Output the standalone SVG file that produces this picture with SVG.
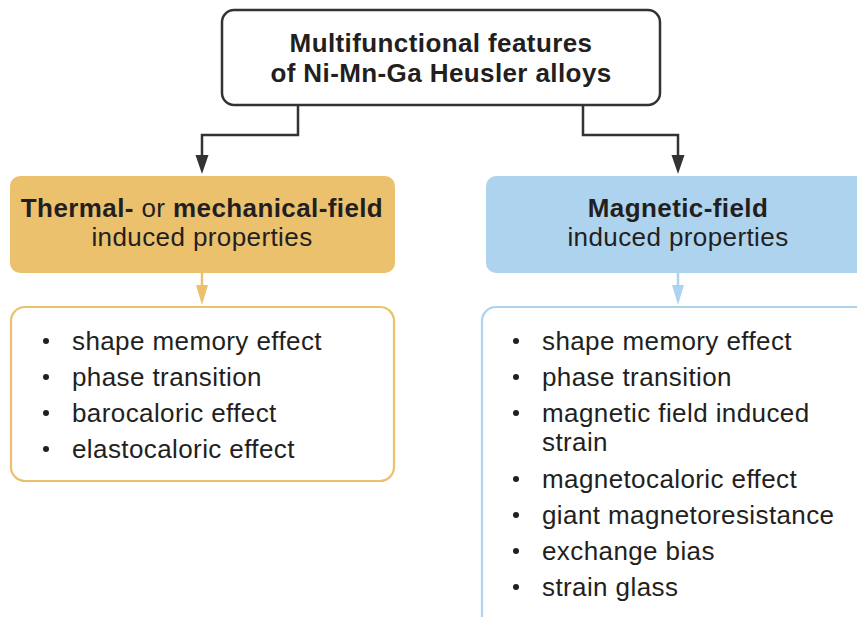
<svg xmlns="http://www.w3.org/2000/svg" width="857" height="617" viewBox="0 0 857 617">
  <defs>
    <style>
      text { font-family: "Liberation Sans", Arial, sans-serif; fill: #231f20; letter-spacing: 0.4px; }
      .hd { font-size: 26px; font-weight: bold; text-anchor: middle; }
      .sub { font-size: 26px; text-anchor: middle; }
      .b { font-weight: bold; }
      .item { font-size: 26px; }
      .dot { fill: #231f20; }
      .link { fill: none; stroke: #333333; stroke-width: 2.5; }
    </style>
  </defs>

  <!-- root node -->
  <g id="root">
    <rect x="222" y="10" width="438" height="95" rx="12" fill="#ffffff" stroke="#333333" stroke-width="2.5"/>
    <text class="hd" x="441" y="52">Multifunctional features</text>
    <text class="hd" x="441" y="82">of Ni-Mn-Ga Heusler alloys</text>
  </g>

  <!-- connectors -->
  <g id="connectors">
    <path class="link" d="M298,105 V135 H202 V158"/>
    <path d="M195.5,155 L208.5,155 L202,174 Z" fill="#333333"/>
    <path class="link" d="M583,105 V135 H678 V158"/>
    <path d="M671.5,155 L684.5,155 L678,174 Z" fill="#333333"/>
    <path d="M202,273 V288" stroke="#ebc16e" stroke-width="2.5" fill="none"/>
    <path d="M196,285 L208,285 L202,305 Z" fill="#ebc16e"/>
    <path d="M678,273 V288" stroke="#aed3ee" stroke-width="2.5" fill="none"/>
    <path d="M672,285 L684,285 L678,305 Z" fill="#aed3ee"/>
  </g>

  <!-- thermal / mechanical branch -->
  <g id="thermal-head">
    <rect x="10" y="176" width="385" height="97" rx="10" fill="#ebc16e"/>
    <text class="sub" x="202" y="217"><tspan class="b">Thermal-</tspan> or <tspan class="b">mechanical-field</tspan></text>
    <text class="sub" x="202" y="246">induced properties</text>
  </g>
  <g id="thermal-list">
    <rect x="11" y="307" width="383" height="174" rx="14" fill="#ffffff" stroke="#ebc16e" stroke-width="2.2"/>
    <circle class="dot" cx="46" cy="341" r="3"/>
    <circle class="dot" cx="46" cy="377" r="3"/>
    <circle class="dot" cx="46" cy="413" r="3"/>
    <circle class="dot" cx="46" cy="449" r="3"/>
    <text class="item" x="72" y="350">shape memory effect</text>
    <text class="item" x="72" y="386">phase transition</text>
    <text class="item" x="72" y="422">barocaloric effect</text>
    <text class="item" x="72" y="458">elastocaloric effect</text>
  </g>

  <!-- magnetic branch -->
  <g id="magnetic-head">
    <rect x="486" y="176" width="420" height="97" rx="10" fill="#aed3ee"/>
    <text class="hd" x="678" y="217">Magnetic-field</text>
    <text class="sub" x="678" y="246">induced properties</text>
  </g>
  <g id="magnetic-list">
    <rect x="482" y="307" width="420" height="400" rx="14" fill="#ffffff" stroke="#aed3ee" stroke-width="2.2"/>
    <circle class="dot" cx="516" cy="341" r="3"/>
    <circle class="dot" cx="516" cy="377" r="3"/>
    <circle class="dot" cx="516" cy="413" r="3"/>
    <circle class="dot" cx="516" cy="479" r="3"/>
    <circle class="dot" cx="516" cy="515" r="3"/>
    <circle class="dot" cx="516" cy="551" r="3"/>
    <circle class="dot" cx="516" cy="587" r="3"/>
    <text class="item" x="542" y="350">shape memory effect</text>
    <text class="item" x="542" y="386">phase transition</text>
    <text class="item" x="542" y="422">magnetic field induced</text>
    <text class="item" x="542" y="451">strain</text>
    <text class="item" x="542" y="488">magnetocaloric effect</text>
    <text class="item" x="542" y="524">giant magnetoresistance</text>
    <text class="item" x="542" y="560">exchange bias</text>
    <text class="item" x="542" y="596">strain glass</text>
  </g>
</svg>
